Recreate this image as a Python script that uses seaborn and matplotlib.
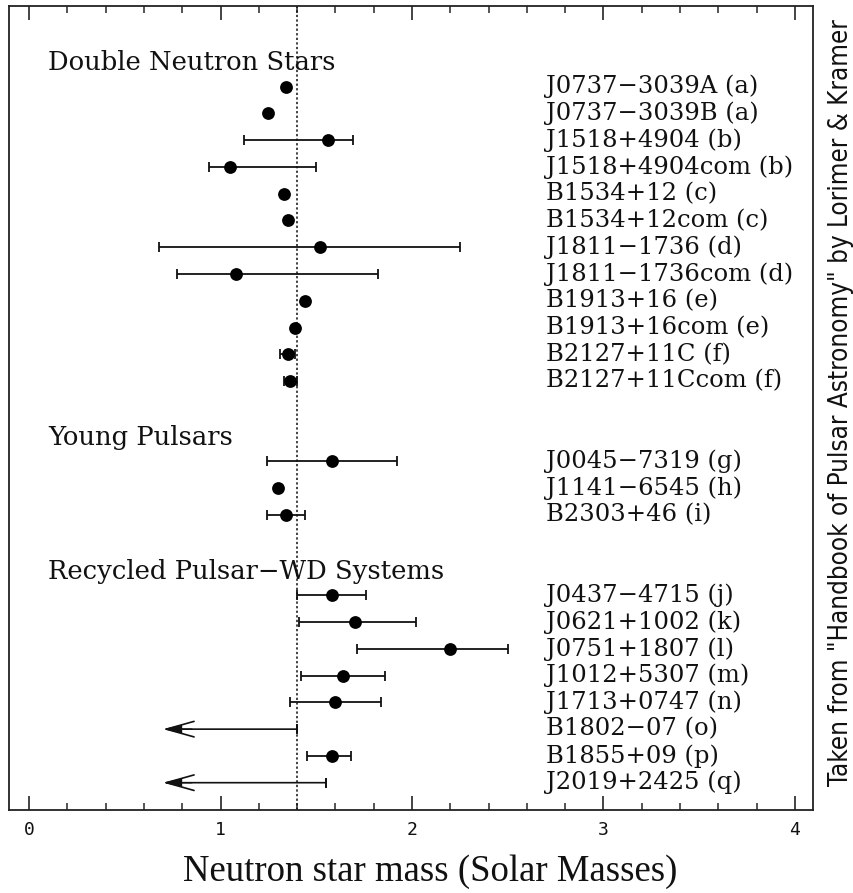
import numpy as np
import pandas as pd
import matplotlib
matplotlib.use("Agg")
import matplotlib.pyplot as plt
import seaborn as sns

nan = np.nan

# ---- data -------------------------------------------------------------
group_titles = ["Double Neutron Stars", "Young Pulsars", "Recycled Pulsar\u2212WD Systems"]

dns_names = ["J0737\u22123039A (a)", "J0737\u22123039B (a)", "J1518+4904 (b)",
             "J1518+4904com (b)", "B1534+12 (c)", "B1534+12com (c)",
             "J1811\u22121736 (d)", "J1811\u22121736com (d)", "B1913+16 (e)",
             "B1913+16com (e)", "B2127+11C (f)", "B2127+11Ccom (f)"]
dns_mass = [1.34, 1.25, 1.56, 1.05, 1.33, 1.35, 1.52, 1.08, 1.44, 1.39, 1.35, 1.36]
dns_lo = [nan, nan, 1.12, 0.94, nan, nan, 0.68, 0.77, nan, nan, 1.31, 1.33]
dns_hi = [nan, nan, 1.69, 1.50, nan, nan, 2.25, 1.82, nan, nan, 1.39, 1.40]
dns_limit = [nan] * 12

young_names = ["J0045\u22127319 (g)", "J1141\u22126545 (h)", "B2303+46 (i)"]
young_mass = [1.58, 1.30, 1.34]
young_lo = [1.24, nan, 1.24]
young_hi = [1.92, nan, 1.44]
young_limit = [nan] * 3

recycled_names = ["J0437\u22124715 (j)", "J0621+1002 (k)", "J0751+1807 (l)",
                  "J1012+5307 (m)", "J1713+0747 (n)", "B1802\u221207 (o)",
                  "B1855+09 (p)", "J2019+2425 (q)"]
recycled_mass = [1.58, 1.70, 2.20, 1.64, 1.60, nan, 1.58, nan]
recycled_lo = [1.40, 1.41, 1.71, 1.42, 1.36, nan, 1.45, nan]
recycled_hi = [1.76, 2.02, 2.50, 1.86, 1.84, nan, 1.68, nan]
recycled_limit = [nan, nan, nan, nan, nan, 1.40, nan, 1.55]

x_ticks = [0, 1, 2, 3, 4]
reference_mass = 1.40

# ---- assemble one table with row positions ----------------------------
groups = [
    (dns_names, dns_mass, dns_lo, dns_hi, dns_limit),
    (young_names, young_mass, young_lo, young_hi, young_limit),
    (recycled_names, recycled_mass, recycled_lo, recycled_hi, recycled_limit),
]
frames, title_rows = [], []
row = 0
for names, mass, lo, hi, lim in groups:
    title_rows.append(row - 0.9)
    rows = np.arange(row, row + len(names))
    frames.append(pd.DataFrame({"name": names, "mass": mass, "lo": lo,
                                "hi": hi, "limit": lim, "row": rows}))
    row += len(names) + 2
df = pd.concat(frames, ignore_index=True)

# ---- figure ------------------------------------------------------------
sns.set_theme(style="white")
plt.rcParams["font.family"] = ["DejaVu Serif", "DejaVu Sans"]

fig = plt.figure(figsize=(8.54, 8.93), dpi=100)
ax = fig.add_axes([9.5 / 854, 1 - 810 / 893, 803.5 / 854, 804 / 893])

ink = "#111111"

# reference mass line
ax.axvline(reference_mass, color=ink, lw=1.1, ls=(0, (1.5, 1.5)), zorder=1)

# measured masses with asymmetric uncertainties
meas = df.dropna(subset=["lo"])
ax.errorbar(meas["mass"], meas["row"],
            xerr=[meas["mass"] - meas["lo"], meas["hi"] - meas["mass"]],
            fmt="none", ecolor=ink, elinewidth=1.3, capsize=3.6,
            capthick=1.3, zorder=2)

pts = df.dropna(subset=["mass"])
sns.scatterplot(data=pts, x="mass", y="row", color="black", s=85,
                linewidth=0, ax=ax, zorder=3, legend=False)

# upper limits drawn as left-pointing arrows
arrow_tip = 0.70
lims = df.dropna(subset=["limit"])
ax.errorbar(lims["limit"], lims["row"], xerr=0, fmt="none", ecolor=ink,
            elinewidth=1.3, capsize=3.6, capthick=1.3, zorder=2)
for _, r in lims.iterrows():
    ax.annotate("", xy=(arrow_tip, r["row"]), xytext=(r["limit"], r["row"]),
                arrowprops=dict(arrowstyle="->,head_length=1.0,head_width=0.28",
                                color=ink, lw=1.2, mutation_scale=20,
                                shrinkA=0, shrinkB=0),
                zorder=2)
    ax.annotate("", xy=(arrow_tip, r["row"]),
                xytext=(arrow_tip + 0.15, r["row"]),
                arrowprops=dict(arrowstyle="-|>,head_length=0.55,head_width=0.13",
                                color=ink, lw=1.0, mutation_scale=20,
                                shrinkA=0, shrinkB=0),
                zorder=2)

# pulsar names
for _, r in df.iterrows():
    ax.text(2.70, r["row"], r["name"], fontsize=17.5, va="center",
            ha="left", color=ink, family="DejaVu Serif")

# group headings
for title, yr in zip(group_titles, title_rows):
    ax.text(0.10, yr, title, fontsize=18.6, va="center", ha="left",
            color=ink, family="DejaVu Serif")

# axes styling
ax.set_xlim(-0.103, 4.095)
ax.set_ylim(27.02, -3.01)
ax.set_ylabel("")
ax.set_yticks([])
ax.set_xticks(x_ticks)
ax.set_xticklabels([str(t) for t in x_ticks], family="DejaVu Sans Mono",
                   fontsize=13)
ax.set_xticks(np.arange(0, 4.01, 0.2), minor=True)
ax.tick_params(axis="x", which="major", direction="in", length=10, width=1.1,
               top=True, bottom=True, pad=8, colors=ink)
ax.tick_params(axis="x", which="minor", direction="in", length=5, width=1.1,
               top=True, bottom=True)
for s in ax.spines.values():
    s.set_visible(True)
    s.set_color("#222222")
    s.set_linewidth(1.3)

ax.set_xlabel("Neutron star mass (Solar Masses)", family="Liberation Serif",
              fontsize=26.5, color=ink)
ax.xaxis.label.set_va("center")
ax.xaxis.set_label_coords(0.523, -62 / 804)

fig.text(841 / 854, 1 - 403 / 893,
         "Taken from \"Handbook of Pulsar Astronomy\" by Lorimer & Kramer",
         rotation=90, ha="center", va="center", fontsize=18.6, color=ink,
         family="DejaVu Sans", fontstretch="condensed")

fig.savefig("out.png", dpi=100, facecolor="white")
